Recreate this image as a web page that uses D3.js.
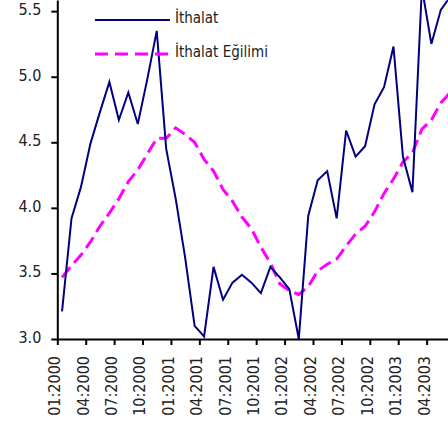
<!DOCTYPE html>
<html>
<head>
<meta charset="utf-8">
<script src="https://cdn.jsdelivr.net/npm/d3@7"></script>
<style>
  html, body { margin: 0; padding: 0; background: #fff; overflow: hidden; }
  svg { display: block; }
  .tick text { font-family: "DejaVu Sans Condensed", "DejaVu Sans", sans-serif; font-size: 16px; fill: #222; }
</style>
</head>
<body>
<div id="chart"></div>
<script>
// monthly values from 01:2000
var imports = [3.21, 3.92, 4.16, 4.49, 4.73, 4.96, 4.67, 4.88, 4.64, 4.98, 5.35, 4.45,
               4.07, 3.62, 3.10, 3.02, 3.55, 3.30, 3.43, 3.49, 3.43, 3.35, 3.55, 3.47,
               3.38, 3.00, 3.94, 4.21, 4.28, 3.92, 4.59, 4.39, 4.47, 4.79, 4.92, 5.23,
               4.39, 4.12, 5.68, 5.25, 5.51, 5.61];
var trend = [3.47, 3.56, 3.64, 3.74, 3.86, 3.96, 4.07, 4.20, 4.29, 4.41, 4.53, 4.53,
             4.61, 4.56, 4.50, 4.37, 4.28, 4.14, 4.05, 3.93, 3.84, 3.70, 3.58, 3.42,
             3.37, 3.34, 3.40, 3.52, 3.57, 3.61, 3.71, 3.80, 3.86, 3.97, 4.11, 4.22,
             4.35, 4.42, 4.60, 4.67, 4.80, 4.88];
var tickLabels = ["01:2000", "04:2000", "07:2000", "10:2000", "01:2001", "04:2001",
                  "07:2001", "10:2001", "01:2002", "04:2002", "07:2002", "10:2002",
                  "01:2003", "04:2003"];
var yTicks = [3.0, 3.5, 4.0, 4.5, 5.0, 5.5];
var seriesNames = ["İthalat", "İthalat Eğilimi"];

var W = 448, H = 430;
var x0 = 57.3, step = 9.47, axisY = 339;

var svg = d3.select('#chart').append('svg')
  .attr('width', W)
  .attr('height', H);

var n = imports.length;
var x = d3.scaleLinear().domain([0, n]).range([x0, x0 + step * n]);
var y = d3.scaleLinear().domain([3.0, 5.585]).range([axisY, 0]);

// x axis
var xAxis = d3.axisBottom(x)
  .tickValues(d3.range(tickLabels.length).map(function(i) { return i * 3; }))
  .tickFormat(function(d, i) { return tickLabels[i]; })
  .tickSize(6)
  .tickSizeOuter(0);

var gx = svg.append('g')
  .attr('transform', 'translate(0,' + axisY + ')')
  .call(xAxis);
gx.select('.domain').attr('stroke', '#000').attr('stroke-width', 2);
gx.selectAll('.tick line').attr('stroke', '#000').attr('stroke-width', 2);
gx.selectAll('.tick text')
  .attr('transform', 'rotate(-90)')
  .attr('x', -17)
  .attr('y', 0)
  .attr('dy', '0.15em')
  .style('text-anchor', 'end');

// y axis
var yAxis = d3.axisLeft(y)
  .tickValues(yTicks)
  .tickFormat(d3.format('.1f'))
  .tickSize(6)
  .tickSizeOuter(0);

var gy = svg.append('g')
  .attr('transform', 'translate(' + x0 + ',0)')
  .call(yAxis);
gy.select('.domain').attr('stroke', '#000').attr('stroke-width', 2);
gy.selectAll('.tick line').attr('stroke', '#000').attr('stroke-width', 2);
gy.selectAll('.tick text').attr('x', -16).attr('dy', '0.22em');

// lines
var line = d3.line()
  .x(function(d, i) { return x(i + 0.5); })
  .y(function(d) { return y(d); });

svg.append('path')
  .datum(trend)
  .attr('fill', 'none')
  .attr('stroke', '#ff00ff')
  .attr('stroke-width', 3)
  .attr('stroke-dasharray', '13,6')
  .attr('d', line);

svg.append('path')
  .datum(imports)
  .attr('fill', 'none')
  .attr('stroke', '#000080')
  .attr('stroke-width', 2)
  .attr('stroke-linejoin', 'miter')
  .attr('d', line);

// legend
var legend = svg.append('g');
var styles = [
  { color: '#000080', width: 2, dash: null, y: 20 },
  { color: '#ff00ff', width: 3, dash: '13,7', y: 54 }
];
styles.forEach(function(s, i) {
  legend.append('line')
    .attr('x1', 95).attr('x2', 170)
    .attr('y1', s.y).attr('y2', s.y)
    .attr('stroke', s.color)
    .attr('stroke-width', s.width)
    .attr('stroke-dasharray', s.dash);
  legend.append('text')
    .attr('x', 175)
    .attr('y', s.y + 3)
    .style('font-family', '"DejaVu Sans Condensed", "DejaVu Sans", sans-serif')
    .style('font-size', '15px')
    .style('fill', '#222')
    .text(seriesNames[i]);
});
</script>
</body>
</html>
